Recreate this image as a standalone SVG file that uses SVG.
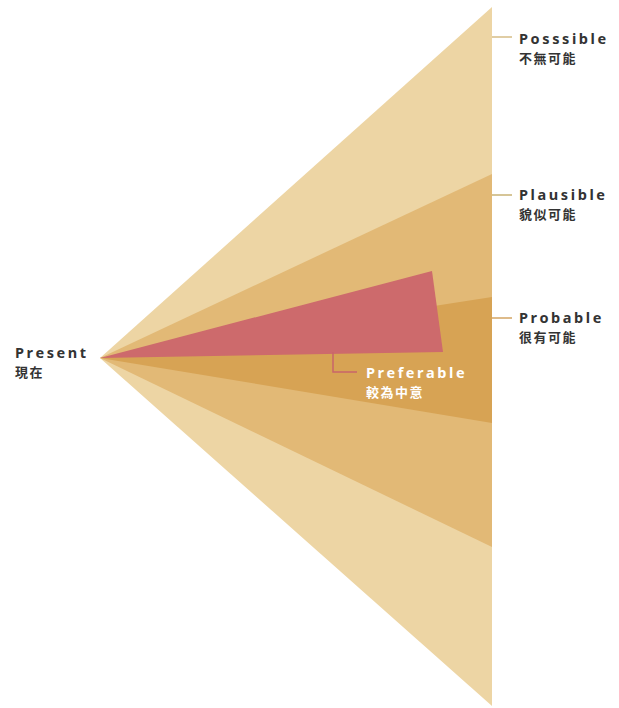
<svg xmlns="http://www.w3.org/2000/svg" width="619" height="708" viewBox="0 0 619 708">
<style>
.lbl{font-family:"Noto Sans","Noto Sans CJK TC",sans-serif;font-weight:bold;font-size:14.5px;letter-spacing:2.6px;fill:#333333}
.zh{font-family:"Noto Sans CJK TC","Noto Sans",sans-serif;font-weight:bold;font-size:13px;letter-spacing:1.5px;fill:#333333}
.lead{stroke:#d6bd86;stroke-width:1.5;fill:none}
</style>
<rect width="619" height="708" fill="#ffffff"/>
<g id="possible">
<polygon points="100,358 492,7 492,706" fill="#edd5a4"/>
</g>
<g id="plausible">
<polygon points="100,358 492,174 492,547" fill="#e2b976"/>
</g>
<g id="probable">
<polygon points="100,358 492,297 492,423" fill="#d7a354"/>
</g>
<g id="preferable">
<polygon points="100,358 432,271 443,352" fill="#cd6a6c"/>
</g>
<g id="connectors">
<line class="lead" x1="492" y1="37" x2="512" y2="37"/>
<line class="lead" x1="492" y1="195" x2="512" y2="195" style="stroke:#c9b274"/>
<line class="lead" x1="492" y1="318" x2="512" y2="318" style="stroke:#d3a463"/>
<polyline points="333,352 333,372 357,372" fill="none" stroke="#c9656a" stroke-width="1.5"/>
</g>
<g id="label-possible">
<text class="lbl" x="519" y="44">Posssible</text>
<text class="zh" x="519" y="63">不無可能</text>
</g>
<g id="label-plausible">
<text class="lbl" x="519" y="200">Plausible</text>
<text class="zh" x="519" y="219">貌似可能</text>
</g>
<g id="label-probable">
<text class="lbl" x="519" y="323">Probable</text>
<text class="zh" x="519" y="342">很有可能</text>
</g>
<g id="label-preferable">
<text class="lbl" x="366" y="378" style="fill:#ffffff">Preferable</text>
<text class="zh" x="366" y="397" style="fill:#ffffff">較為中意</text>
</g>
<g id="label-present">
<text class="lbl" x="15" y="358">Present</text>
<text class="zh" x="15" y="377">現在</text>
</g>
</svg>
